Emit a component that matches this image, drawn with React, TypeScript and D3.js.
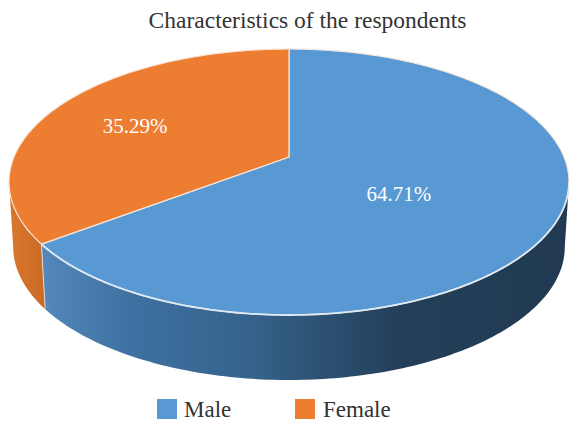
import * as d3 from 'd3'

const categories = ['Male', 'Female']
const shares = [64.71, 35.29]
const colors = ['#5898d3', '#ed7d31']
const title = 'Characteristics of the respondents'

const width = 569
const height = 421
const serif = '"Liberation Serif", "DejaVu Serif", serif'

// the disc is a tilted circle, so the slice tip sits above the middle of the ellipse
const tipX = 289
const tipY = 157
const spanX = 275
const spanY = 128.3
const tilt = 0.188
const depth = 65
const shrink = 0.985

const project = (angle: number, r = 1): [number, number] => {
  const u = r * Math.sin(angle)
  const v = -r * Math.cos(angle)
  const w = 1 - tilt * v
  return [tipX + (spanX * u) / w, tipY + (spanY * v) / w]
}

const projectLow = (angle: number): [number, number] => {
  const [x, y] = project(angle)
  return [tipX + (x - tipX) * shrink, y + depth]
}

const arcPoints = (a0: number, a1: number, fn: (a: number) => [number, number]) => {
  const n = Math.max(2, Math.ceil(Math.abs(a1 - a0) * 60))
  return d3.range(n + 1).map((i) => fn(a0 + ((a1 - a0) * i) / n))
}

const line = d3.line()

const pieAngles = d3.pie<number>().sort(null)(shares)

// rim is only seen between the two widest points of the ellipse
const rightEdge = Math.acos(-tilt)
const leftEdge = 2 * Math.PI - rightEdge

const wallPath = (a0: number, a1: number) => {
  const from = Math.max(a0, rightEdge)
  const to = Math.min(a1, leftEdge)
  return line([...arcPoints(from, to, (a) => project(a)), ...arcPoints(to, from, projectLow)]) + 'Z'
}

const facePath = (a0: number, a1: number) =>
  line([[tipX, tipY], ...arcPoints(a0, a1, (a) => project(a))]) + 'Z'

const labelRadius = [0.43, 0.66]
const labelShift = [18, 12]

const legendX = d3.scalePoint<string>().domain(categories).range([157, 295])

export default function App() {
  const seam = pieAngles[0].endAngle
  return (
    <svg
      width={width}
      height={height}
      viewBox={`0 0 ${width} ${height}`}
      style={{ position: 'absolute', left: 0, top: 0, background: '#fff' }}
    >
      <defs>
        <linearGradient id="wall-male" gradientUnits="userSpaceOnUse" x1={45} x2={565} y1={0} y2={0}>
          <stop offset="0" stopColor="#5387b9" />
          <stop offset="0.17" stopColor="#3e71a1" />
          <stop offset="0.4" stopColor="#36628b" />
          <stop offset="0.5" stopColor="#2f5578" />
          <stop offset="0.68" stopColor="#243f59" />
          <stop offset="1" stopColor="#213a52" />
        </linearGradient>
        <linearGradient id="wall-female" gradientUnits="userSpaceOnUse" x1={12} x2={46} y1={0} y2={0}>
          <stop offset="0" stopColor="#d9762e" />
          <stop offset="1" stopColor="#c96a24" />
        </linearGradient>
      </defs>

      <text x={307.5} y={28} textAnchor="middle" fontFamily={serif} fontSize={23.5} fill="#333">
        {title}
      </text>

      {pieAngles.map((d, i) => (
        <path
          key={categories[i]}
          d={wallPath(d.startAngle, d.endAngle)}
          fill={i === 0 ? 'url(#wall-male)' : 'url(#wall-female)'}
        />
      ))}

      <path d={line([project(seam), projectLow(seam)]) ?? ''} stroke="#e3d8cf" strokeWidth={1} fill="none" />

      {pieAngles.map((d, i) => (
        <path
          key={categories[i]}
          d={facePath(d.startAngle, d.endAngle)}
          fill={colors[i]}
          stroke="#f6e6da"
          strokeWidth={1.2}
          strokeLinejoin="round"
        />
      ))}

      <path
        d={line(arcPoints(rightEdge, seam, (a) => project(a))) ?? ''}
        fill="none"
        stroke="#dfe9f2"
        strokeWidth={1.8}
      />

      {pieAngles.map((d, i) => {
        const [x, y] = project((d.startAngle + d.endAngle) / 2, labelRadius[i])
        return (
          <text
            key={categories[i]}
            x={x}
            y={y + labelShift[i]}
            textAnchor="middle"
            fontFamily={serif}
            fontSize={21}
            fill="#fff"
          >
            {`${shares[i].toFixed(2)}%`}
          </text>
        )
      })}

      {categories.map((c, i) => (
        <g key={c} transform={`translate(${legendX(c)},399)`}>
          <rect width={20} height={20} fill={colors[i]} />
          <text x={i === 0 ? 27 : 28} y={18} fontFamily={serif} fontSize={23} fill="#333">
            {c}
          </text>
        </g>
      ))}
    </svg>
  )
}
